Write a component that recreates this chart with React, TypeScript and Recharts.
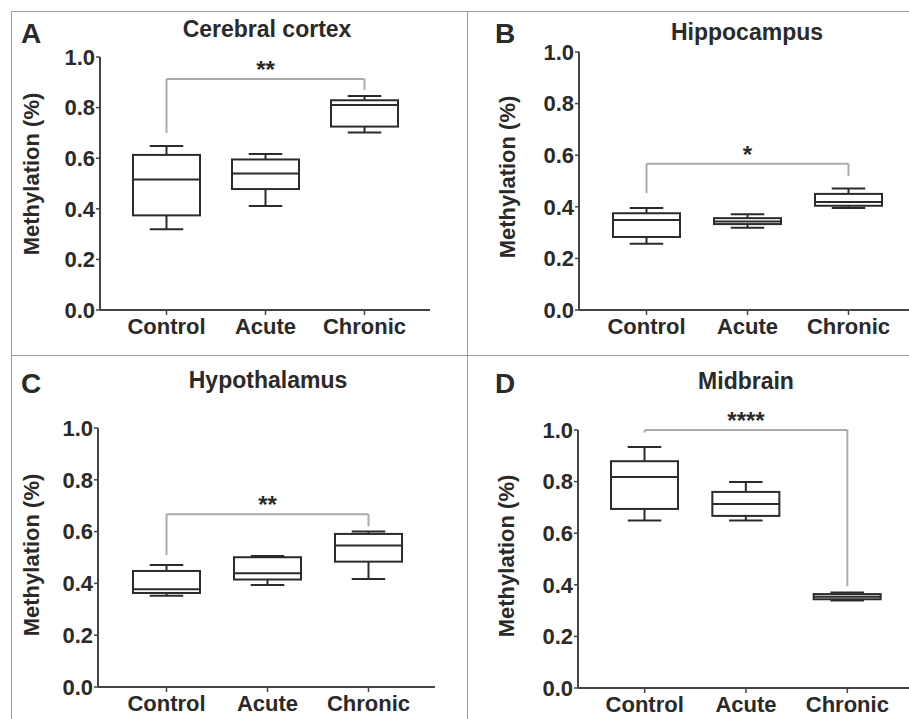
import React from "react";
import { Bar, ComposedChart, ReferenceLine, XAxis, YAxis } from "recharts";

const FONT = '"Liberation Sans", Arial, Helvetica, sans-serif';
const INK = "#2a2a2a";

const groups = ["Control", "Acute", "Chronic"];
const yTicks = [0, 0.2, 0.4, 0.6, 0.8, 1.0];

// five-number summaries per region, one value per group
const cortexMin = [0.319, 0.411, 0.702];
const cortexQ1 = [0.374, 0.478, 0.725];
const cortexMedian = [0.516, 0.54, 0.81];
const cortexQ3 = [0.613, 0.595, 0.829];
const cortexMax = [0.648, 0.617, 0.846];

const hippoMin = [0.257, 0.319, 0.395];
const hippoQ1 = [0.283, 0.333, 0.404];
const hippoMedian = [0.349, 0.343, 0.419];
const hippoQ3 = [0.375, 0.356, 0.45];
const hippoMax = [0.395, 0.371, 0.471];

const hypoMin = [0.352, 0.394, 0.417];
const hypoQ1 = [0.363, 0.415, 0.484];
const hypoMedian = [0.377, 0.439, 0.546];
const hypoQ3 = [0.448, 0.501, 0.591];
const hypoMax = [0.471, 0.506, 0.6];

const midMin = [0.649, 0.649, 0.339];
const midQ1 = [0.694, 0.667, 0.344];
const midMedian = [0.818, 0.713, 0.354];
const midQ3 = [0.879, 0.76, 0.364];
const midMax = [0.934, 0.798, 0.37];

// significance brackets: Control vs Chronic
const bracketLevel = [0.913, 0.567, 0.667, 1.0];
const bracketLeftEnd = [0.7, 0.453, 0.51, 0.99];
const bracketRightEnd = [0.87, 0.52, 0.62, 0.394];
const stars = ["**", "*", "**", "****"];

type Row = { group: string; min: number; q1: number; median: number; q3: number; max: number };

const rows = (mn: number[], q1: number[], md: number[], q3: number[], mx: number[]): Row[] =>
  groups.map((g, i) => ({ group: g, min: mn[i], q1: q1[i], median: md[i], q3: q3[i], max: mx[i] }));

function BoxShape(props: any) {
  const { x, y, width, height, payload } = props;
  if (!payload) return null;
  const top = Math.min(y, y + height);
  const bottom = Math.max(y, y + height);
  const span = payload.max - payload.min || 1;
  const py = (v: number) => bottom - ((v - payload.min) / span) * (bottom - top);
  const cx = x + width / 2;
  const cap = width / 4;
  const s = { stroke: "#2b2b2b", strokeWidth: 2, fill: "none" };
  return (
    <g>
      <line x1={cx} x2={cx} y1={py(payload.max)} y2={py(payload.q3)} {...s} />
      <line x1={cx} x2={cx} y1={py(payload.q1)} y2={py(payload.min)} {...s} />
      <line x1={cx - cap} x2={cx + cap} y1={py(payload.max)} y2={py(payload.max)} {...s} />
      <line x1={cx - cap} x2={cx + cap} y1={py(payload.min)} y2={py(payload.min)} {...s} />
      <rect x={x} y={py(payload.q3)} width={width} height={py(payload.q1) - py(payload.q3)} {...s} />
      <line x1={x} x2={x + width} y1={py(payload.median)} y2={py(payload.median)} {...s} />
    </g>
  );
}

type PanelProps = {
  data: Row[];
  idx: number;
  left: number;
  top: number;
  width: number;
  height: number;
  margin: { top: number; right: number; bottom: number; left: number };
  padding: { left: number; right: number };
};

function Panel({ data, idx, left, top, width, height, margin, padding }: PanelProps) {
  const tickStyle = { fill: INK, fontSize: 22, fontWeight: 700, fontFamily: FONT };
  const grey = "#ababab";
  return (
    <div style={{ position: "absolute", left, top }}>
      <ComposedChart width={width} height={height} data={data} margin={margin}>
        <XAxis
          dataKey="group"
          padding={padding}
          height={30}
          tick={tickStyle}
          tickSize={5}
          tickMargin={3}
          axisLine={{ stroke: "#444", strokeWidth: 2 }}
          tickLine={{ stroke: "#444", strokeWidth: 1.5 }}
        />
        <YAxis
          domain={[0, 1]}
          ticks={yTicks}
          width={60}
          tick={tickStyle}
          tickSize={4}
          tickMargin={1}
          tickFormatter={(v: number) => v.toFixed(1)}
          axisLine={{ stroke: "#444", strokeWidth: 2 }}
          tickLine={{ stroke: "#444", strokeWidth: 1.5 }}
        />
        <Bar
          dataKey={(d: Row) => [d.min, d.max]}
          barSize={67}
          shape={BoxShape}
          isAnimationActive={false}
        />
        <ReferenceLine
          segment={[
            { x: "Control", y: bracketLevel[idx] },
            { x: "Chronic", y: bracketLevel[idx] },
          ]}
          stroke={grey}
          strokeWidth={2}
          label={{
            value: stars[idx],
            position: "top",
            offset: 1,
            fill: INK,
            fontSize: 24,
            fontWeight: 700,
            fontFamily: FONT,
          }}
        />
        <ReferenceLine
          segment={[
            { x: "Control", y: bracketLevel[idx] },
            { x: "Control", y: bracketLeftEnd[idx] },
          ]}
          stroke={grey}
          strokeWidth={2}
        />
        <ReferenceLine
          segment={[
            { x: "Chronic", y: bracketLevel[idx] },
            { x: "Chronic", y: bracketRightEnd[idx] },
          ]}
          stroke={grey}
          strokeWidth={2}
        />
      </ComposedChart>
    </div>
  );
}

function Txt({ x, y, size, children, rotate }: { x: number; y: number; size: number; children: React.ReactNode; rotate?: boolean }) {
  return (
    <div
      style={{
        position: "absolute",
        left: x,
        top: y,
        transform: `translate(-50%, -50%)${rotate ? " rotate(-90deg)" : ""}`,
        whiteSpace: "nowrap",
        lineHeight: 1,
        fontSize: size,
        fontWeight: 700,
        fontFamily: FONT,
        color: INK,
      }}
    >
      {children}
    </div>
  );
}

const frameLine = (l: number, t: number, w: number, h: number) => (
  <div style={{ position: "absolute", left: l, top: t, width: w, height: h, background: "#9c9c9c" }} />
);

export default function App() {
  return (
    <div style={{ position: "absolute", left: 0, top: 0, width: 909, height: 719, background: "#fff", overflow: "hidden" }}>
      {frameLine(11, 11, 898, 1)}
      {frameLine(11, 11, 1, 708)}
      {frameLine(467, 11, 1, 708)}
      {frameLine(11, 355, 898, 1)}

      <Panel
        data={rows(cortexMin, cortexQ1, cortexMedian, cortexQ3, cortexMax)}
        idx={0}
        left={0}
        top={0}
        width={455}
        height={355}
        margin={{ top: 57, right: 25, bottom: 15, left: 40 }}
        padding={{ left: 17, right: 16 }}
      />
      <Panel
        data={rows(hippoMin, hippoQ1, hippoMedian, hippoQ3, hippoMax)}
        idx={1}
        left={467}
        top={0}
        width={442}
        height={355}
        margin={{ top: 52, right: 0, bottom: 15, left: 52 }}
        padding={{ left: 17, right: 10 }}
      />
      <Panel
        data={rows(hypoMin, hypoQ1, hypoMedian, hypoQ3, hypoMax)}
        idx={2}
        left={0}
        top={355}
        width={467}
        height={364}
        margin={{ top: 73, right: 32, bottom: 2, left: 38 }}
        padding={{ left: 18, right: 16 }}
      />
      <Panel
        data={rows(midMin, midQ1, midMedian, midQ3, midMax)}
        idx={3}
        left={467}
        top={355}
        width={442}
        height={364}
        margin={{ top: 75, right: 0, bottom: 1, left: 51 }}
        padding={{ left: 16, right: 11 }}
      />

      <Txt x={31} y={34} size={28}>A</Txt>
      <Txt x={505} y={34} size={28}>B</Txt>
      <Txt x={31} y={384} size={28}>C</Txt>
      <Txt x={505} y={384} size={28}>D</Txt>

      <Txt x={267} y={29} size={23}>Cerebral cortex</Txt>
      <Txt x={747} y={32} size={23}>Hippocampus</Txt>
      <Txt x={268} y={380} size={23}>Hypothalamus</Txt>
      <Txt x={746} y={381} size={23}>Midbrain</Txt>

      <Txt x={32} y={174} size={22} rotate>Methylation (%)</Txt>
      <Txt x={508} y={177} size={22} rotate>Methylation (%)</Txt>
      <Txt x={32} y={555} size={22} rotate>Methylation (%)</Txt>
      <Txt x={507} y={556} size={22} rotate>Methylation (%)</Txt>
    </div>
  );
}
